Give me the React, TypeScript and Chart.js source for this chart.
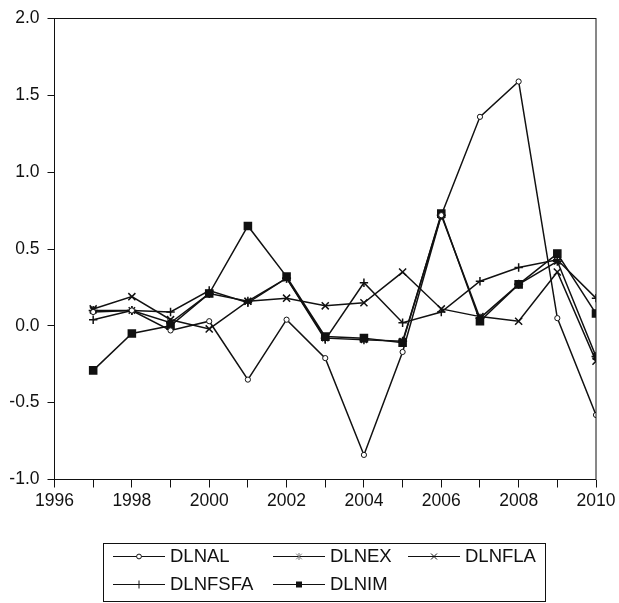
import React, { useEffect, useRef } from 'react';
import { Chart, registerables } from 'chart.js';

Chart.register(...registerables);

const years = [1997, 1998, 1999, 2000, 2001, 2002, 2003, 2004, 2005, 2006, 2007, 2008, 2009, 2010];
const dlnal = [0.09, 0.10, -0.03, 0.03, -0.35, 0.04, -0.21, -0.84, -0.17, 0.72, 1.36, 1.59, 0.05, -0.58];
const dlnex = [0.10, 0.10, 0.02, 0.21, 0.16, 0.31, -0.08, -0.09, -0.10, 0.72, 0.05, 0.27, 0.42, -0.20];
const dlnfla = [0.11, 0.19, 0.04, -0.02, 0.16, 0.18, 0.13, 0.15, 0.35, 0.11, 0.06, 0.03, 0.35, -0.23];
const dlnfsfa = [0.04, 0.10, 0.09, 0.23, 0.15, 0.31, -0.09, 0.28, 0.02, 0.09, 0.29, 0.38, 0.43, 0.18];
const dlnim = [-0.29, -0.05, 0.00, 0.21, 0.65, 0.32, -0.07, -0.08, -0.11, 0.73, 0.03, 0.27, 0.47, 0.08];

const seriesLabels = ['DLNAL', 'DLNEX', 'DLNFLA', 'DLNFSFA', 'DLNIM'];
const xMin = 1996;
const xMax = 2010;
const yMin = -1.0;
const yMax = 2.0;

const FONT = '"Liberation Sans", Arial, Helvetica, sans-serif';
const INK = '#111111';

type Marker = 'circle' | 'star' | 'crossRot' | 'cross' | 'rect';
const markers: Marker[] = ['circle', 'star', 'crossRot', 'cross', 'rect'];
const markerRadius = [2.6, 4.5, 5, 4.2, 5];

function drawMarker(ctx: CanvasRenderingContext2D, m: Marker, x: number, y: number, s: number) {
  ctx.save();
  ctx.strokeStyle = INK;
  ctx.fillStyle = INK;
  ctx.lineWidth = 1;
  ctx.beginPath();
  if (m === 'circle') {
    ctx.arc(x, y, s, 0, Math.PI * 2);
    ctx.fillStyle = '#fff';
    ctx.fill();
    ctx.stroke();
  } else if (m === 'rect') {
    ctx.rect(x - s, y - s, 2 * s, 2 * s);
    ctx.fill();
  } else if (m === 'cross') {
    ctx.moveTo(x, y - s); ctx.lineTo(x, y + s);
    ctx.stroke();
  } else if (m === 'crossRot') {
    ctx.moveTo(x - s, y - s); ctx.lineTo(x + s, y + s);
    ctx.moveTo(x - s, y + s); ctx.lineTo(x + s, y - s);
    ctx.stroke();
  } else {
    ctx.strokeStyle = '#777';
    ctx.moveTo(x, y - s); ctx.lineTo(x, y + s);
    const d = s * 0.8;
    ctx.moveTo(x - d, y - d); ctx.lineTo(x + d, y + d);
    ctx.moveTo(x - d, y + d); ctx.lineTo(x + d, y - d);
    ctx.stroke();
  }
  ctx.restore();
}

const framePlugin = {
  id: 'frame',
  afterDatasetsDraw(chart: any) {
    const { ctx, chartArea } = chart;
    const { left, right, top, bottom } = chartArea;
    ctx.save();
    ctx.strokeStyle = INK;
    ctx.lineWidth = 1;
    ctx.strokeRect(left, top, right - left, bottom - top);
    ctx.restore();
  },
};

const legendPlugin = {
  id: 'boxLegend',
  afterDraw(chart: any) {
    const ctx: CanvasRenderingContext2D = chart.ctx;
    const boxL = 103.5, boxT = 543.5, boxW = 442, boxH = 58;
    const rows = [[0, 1, 2], [3, 4]];
    const colX = [113, 273, 408];
    const rowY = [556.5, 584.5];
    const lineLen = 52;
    const legendMarker = [2.4, 3.5, 3, 4, 3];
    ctx.save();
    ctx.strokeStyle = INK;
    ctx.lineWidth = 1;
    ctx.strokeRect(boxL, boxT, boxW, boxH);
    ctx.font = `18.5px ${FONT}`;
    ctx.textBaseline = 'middle';
    rows.forEach((row, ri) => {
      row.forEach((di, ci) => {
        const ds = chart.data.datasets[di];
        const x0 = colX[ci];
        const y = rowY[ri];
        ctx.beginPath();
        ctx.strokeStyle = INK;
        ctx.lineWidth = 1.2;
        ctx.moveTo(x0, y);
        ctx.lineTo(x0 + lineLen, y);
        ctx.stroke();
        drawMarker(ctx, markers[di], x0 + lineLen / 2, y, legendMarker[di]);
        ctx.fillStyle = '#111';
        ctx.fillText(ds.label, x0 + lineLen + 5, y + 0.5);
      });
    });
    ctx.restore();
  },
};

const seriesValues = [dlnal, dlnex, dlnfla, dlnfsfa, dlnim];

export default function App() {
  const ref = useRef<HTMLCanvasElement | null>(null);

  useEffect(() => {
    if (!ref.current) return;
    const datasets = seriesValues.map((vals, i) => ({
      label: seriesLabels[i],
      data: years.map((yr, k) => ({ x: yr, y: vals[k] })),
      borderColor: INK,
      borderWidth: 1.5,
      backgroundColor: markers[i] === 'circle' ? '#ffffff' : INK,
      pointBorderColor: INK,
      pointBackgroundColor: markers[i] === 'circle' ? '#ffffff' : INK,
      pointStyle: markers[i],
      pointRadius: markerRadius[i],
      pointBorderWidth: markers[i] === 'circle' ? 1 : 1.5,
      pointHoverRadius: markerRadius[i],
      tension: 0,
      fill: false,
      clip: 0,
    }));

    const chart = new Chart(ref.current, {
      type: 'line',
      data: { datasets },
      options: {
        animation: false,
        responsive: false,
        devicePixelRatio: 1,
        layout: { padding: { left: 0, top: 17, right: 23, bottom: 93.5 } },
        plugins: {
          legend: { display: false },
          tooltip: { enabled: false },
          title: { display: false },
        },
        scales: {
          x: {
            type: 'linear',
            min: xMin,
            max: xMax,
            afterFit: (axis: any) => { axis.height = 30; },
            border: { display: false },
            grid: { display: true, drawOnChartArea: false, drawTicks: true, tickLength: 8, color: INK, lineWidth: 1 },
            ticks: {
              stepSize: 1,
              autoSkip: false,
              maxRotation: 0,
              padding: 3,
              color: '#111',
              font: { family: FONT, size: 17.5 },
              callback: (v: any) => (Number(v) % 2 === 0 ? String(v) : ''),
            },
          },
          y: {
            type: 'linear',
            min: yMin,
            max: yMax,
            afterFit: (axis: any) => { axis.width = 54.5; },
            border: { display: false },
            grid: { display: true, drawOnChartArea: false, drawTicks: true, tickLength: 7, color: INK, lineWidth: 1 },
            ticks: {
              stepSize: 0.5,
              padding: 8,
              color: '#111',
              font: { family: FONT, size: 17.5 },
              callback: (v: any) => Number(v).toFixed(1),
            },
          },
        },
      },
      plugins: [framePlugin, legendPlugin],
    });
    return () => chart.destroy();
  }, []);

  return (
    <div style={{ position: 'fixed', left: 0, top: 0, width: 619, height: 603, background: '#fff' }}>
      <canvas ref={ref} width={619} height={603} style={{ width: 619, height: 603, display: 'block' }} />
    </div>
  );
}
